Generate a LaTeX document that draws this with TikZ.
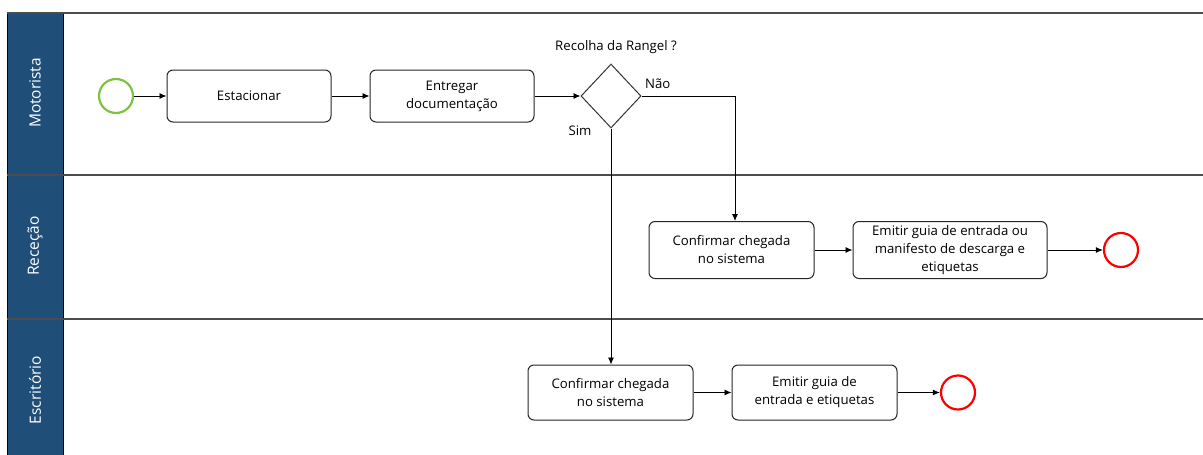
\documentclass[tikz,border=0pt]{standalone}
\usepackage{fontspec}
\setmainfont{Open Sans}
\usetikzlibrary{shapes.geometric,arrows.meta}
\definecolor{lanehead}{HTML}{1F4E79}
\definecolor{startgreen}{HTML}{7DC242}
\definecolor{endred}{HTML}{FF0000}
\tikzset{
  task/.style={draw=black!85, line width=1pt, rounded corners=6pt, fill=white,
    align=center, font=\fontsize{13.2}{18}\selectfont, inner sep=2pt},
  gateway/.style={draw=black!80, line width=1pt, diamond, fill=white,
    minimum width=60pt, minimum height=64pt, inner sep=0pt},
  startev/.style={draw=startgreen, line width=2.2pt, circle, minimum size=34pt, inner sep=0pt},
  endev/.style={draw=endred, line width=2.2pt, circle, minimum size=34pt, inner sep=0pt},
  flow/.style={line width=0.9pt, -{Latex[length=7pt,width=6pt]}},
  lanetitle/.style={text=white, rotate=90, font=\fontsize{15.5}{18}\selectfont},
  lbl/.style={font=\fontsize{13.2}{16}\selectfont, inner sep=0pt},
  laneline/.style={draw=black!70, line width=1.3pt}
}
\begin{document}
\begin{tikzpicture}[x=1pt,y=-1pt]
\useasboundingbox (0,0) rectangle (1203,455);
% pool and lane headers
\fill[lanehead] (7,13) rectangle (63,455);
\draw[black, line width=0.8pt] (7,13) -- (7,455);
\draw[black, line width=0.8pt] (63,13) -- (63,455);
\draw[laneline] (7,13) -- (1203,13);
\draw[laneline] (7,175) -- (1203,175);
\draw[laneline] (7,319) -- (1203,319);
\node[lanetitle] (hmot) at (35,93) {Motorista};
\node[lanetitle] (hrec) at (35,246) {Receção};
\node[lanetitle] (hesc) at (35,390) {Escritório};
% Motorista lane
\node[startev] (start) at (116,96) {};
\node[task, minimum width=164pt, minimum height=52pt] (estac) at (249,96) {Estacionar};
\node[task, minimum width=164pt, minimum height=52pt] (entreg) at (452,96) {Entregar\\documentação};
\node[gateway] (gw) at (611,96) {};
\node[lbl] (q) at (616,47) {Recolha da Rangel ?};
\node[lbl, anchor=west] (nao) at (645,84) {Não};
\node[lbl] (sim) at (580,131) {Sim};
% Receção lane
\node[task, minimum width=165pt, minimum height=57pt] (conf1) at (731.5,250) {Confirmar chegada\\no sistema};
\node[task, minimum width=194pt, minimum height=57pt] (emit1) at (950,250) {Emitir guia de entrada ou\\manifesto de descarga e\\etiquetas};
\node[endev] (end1) at (1121,250) {};
% Escritório lane
\node[task, minimum width=165pt, minimum height=55pt] (conf2) at (610.5,392.5) {Confirmar chegada\\no sistema};
\node[task, minimum width=165pt, minimum height=55pt] (emit2) at (814.5,392.5) {Emitir guia de\\entrada e etiquetas};
\node[endev] (end2) at (958,392.5) {};
% sequence flows
\draw[flow] (start) -- (estac);
\draw[flow] (estac) -- (entreg);
\draw[flow] (entreg) -- (gw);
\draw[flow] (gw.east) -| (conf1.north -| 735,0);
\draw[flow] (gw.south) -- (conf2.north -| gw.south);
\draw[flow] (conf1) -- (emit1);
\draw[flow] (emit1) -- (end1);
\draw[flow] (conf2) -- (emit2);
\draw[flow] (emit2) -- (end2);
\end{tikzpicture}
\end{document}
